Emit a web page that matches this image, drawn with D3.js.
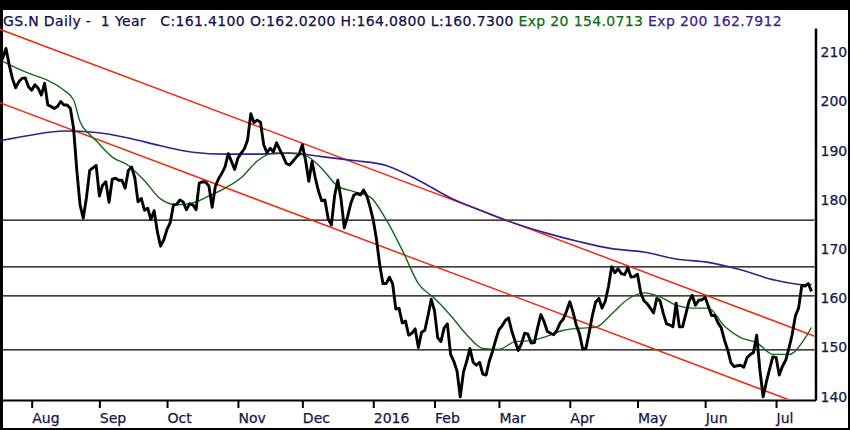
<!DOCTYPE html>
<html lang="en">
  <head>
    <meta charset="utf-8">
    <title>GS.N Daily - 1 Year</title>
    <script type="text/javascript" src="https://cdn.jsdelivr.net/npm/d3@7/dist/d3.min.js"></script>
    <style type="text/css">
      body { margin: 0; background: #000; }
      .axis text { font-family: "DejaVu Sans", sans-serif; font-size: 14px; fill: #16164a; stroke: #16164a; stroke-width: 0.25px; }
      .title { font-family: "DejaVu Sans", sans-serif; font-size: 14px; white-space: pre; stroke-width: 0.25px; letter-spacing: 0.35px; }
    </style>
  </head>
  <body>
  <script type="text/javascript">

    // daily closes, one per trading day (Jul 20 2015 .. Jul 19 2016)
    const closes = [
      207.8, 208.8, 210.8, 207.5, 204.7, 202.8, 204.0, 204.7, 204.8, 203.0,
      202.3, 203.4, 202.7, 201.3, 203.7, 199.3, 199.0, 198.6, 199.0, 200.0,
      199.3, 199.3, 198.6, 194.5, 186.0, 179.0, 176.3, 180.5, 186.0, 186.5,
      187.0, 180.8, 183.0, 183.7, 179.5, 184.2, 184.4, 184.0, 184.0, 182.4,
      186.0, 186.7, 184.5, 179.6, 180.3, 177.9, 178.3, 176.0, 177.8, 173.5,
      170.6, 171.9, 174.0, 175.4, 179.0, 179.1, 180.0, 179.6, 178.0, 179.2,
      179.0, 178.0, 183.4, 183.7, 183.6, 182.8, 178.5, 182.8, 184.3, 185.4,
      186.7, 189.4, 187.8, 186.2, 188.5, 189.5, 190.4, 192.2, 197.5, 195.7,
      196.2, 195.8, 191.2, 189.6, 190.5, 189.8, 191.6, 190.2, 188.9, 187.4,
      187.1, 187.8, 188.6, 189.3, 191.2, 188.0, 183.8, 187.8, 184.5, 181.8,
      179.8, 180.0, 176.2, 174.9, 180.8, 184.0, 180.2, 174.3, 176.5, 179.2,
      181.0, 181.3, 181.0, 182.0, 180.8, 178.6, 175.9, 172.0, 166.8, 163.0,
      163.0, 164.3, 163.0, 157.8, 158.0, 155.0, 155.4, 152.5, 152.9, 153.8,
      150.0, 153.1, 153.5, 156.5, 159.8, 157.5, 152.0, 151.2, 154.0, 154.8,
      148.6, 147.2, 145.2, 140.0, 145.0, 147.2, 149.8, 147.0, 146.4, 147.0,
      144.6, 144.4, 147.2, 149.2, 151.5, 153.6, 154.4, 155.5, 156.0, 153.3,
      151.3, 149.4, 150.8, 152.9, 152.7, 150.9, 151.0, 154.0, 156.7, 155.3,
      153.3, 152.9, 152.6, 153.5, 155.0, 155.8, 157.4, 159.3, 157.2, 154.6,
      152.8, 149.7, 149.8, 153.0, 156.5, 159.2, 160.0, 158.0, 159.4, 162.4,
      166.4, 165.2, 166.0, 165.0, 164.8, 166.2, 164.3, 164.4, 164.9, 161.2,
      159.5, 158.9, 158.0, 157.0, 160.0, 159.5, 157.0, 154.8, 154.6, 154.2,
      159.0, 154.2, 154.2, 156.8, 159.4, 160.6, 158.6, 159.6, 159.7, 160.2,
      158.4, 156.5, 156.5, 155.0, 154.0, 151.5, 149.5, 146.9, 146.1, 146.3,
      146.4, 146.0, 147.9, 148.6, 149.0, 152.5, 145.4, 140.0, 143.0, 145.6,
      148.1, 148.0, 144.4, 146.2, 147.4, 149.8, 152.6, 156.4, 158.0, 162.6,
      162.5, 163.0, 161.4
    ];

    // exponential averages (bar index -> value)
    const ema20Idx = [0, 5, 10, 15, 20, 23, 25, 28, 30, 35, 40, 45, 50, 55, 60, 65, 70, 75, 80, 85,
                      90, 95, 100, 105, 110, 115, 120, 125, 130, 135, 140, 145, 150, 155, 160, 165,
                      170, 175, 180, 185, 190, 195, 200, 205, 210, 215, 220, 225, 230, 235, 240,
                      245, 250, 252];
    const ema20Val = [208.5, 206.9, 205.5, 204.3, 202.3, 200.3, 195.9, 193.3, 192.0, 188.7, 187.0,
                      183.9, 180.2, 179.0, 179.4, 180.8, 182.4, 184.5, 187.9, 189.5, 189.5, 189.0,
                      186.4, 182.8, 181.7, 180.6, 176.0, 169.8, 163.0, 160.0, 156.5, 152.6, 149.8,
                      149.6, 151.2, 151.4, 152.3, 153.5, 153.9, 154.1, 156.8, 159.8, 161.1, 160.3,
                      158.6, 158.0, 158.0, 154.3, 152.0, 151.0, 148.6, 148.6, 151.9, 154.07];

    const ema200Idx = [0, 10, 20, 30, 40, 50, 60, 70, 80, 90, 100, 110, 120, 130, 140, 150, 160,
                       170, 180, 190, 200, 210, 220, 230, 240, 250, 252];
    const ema200Val = [192.0, 193.2, 194.0, 193.7, 192.6, 191.0, 189.7, 189.3, 189.3, 189.5, 188.8,
                       188.0, 187.0, 184.0, 180.4, 177.7, 175.2, 173.2, 171.5, 170.1, 169.4, 168.0,
                       167.3, 165.8, 163.8, 162.75, 162.79];

    // horizontal support / resistance levels
    const levels = [175.9, 166.4, 160.5, 149.5];

    // trend channel, each line given by two [bar index, price] points
    const channel = [
      [[0, 214.7], [253, 152.3]],
      [[0, 199.8], [253, 137.4]]
    ];

    const monthLabels = ["Aug", "Sep", "Oct", "Nov", "Dec", "2016", "Feb", "Mar", "Apr", "May", "Jun", "Jul"];
    const monthIdx = [10, 31, 52, 74, 94, 116, 135, 155, 177, 198, 219, 241];
    const priceTicks = [140, 150, 160, 170, 180, 190, 200, 210];

    const w = 850;
    const h = 430;
    const plot = {left: 0, right: 815.5, top: 28, bottom: 400};

    const svg = d3.select("body")
                  .append("svg")
                  .attr("width", w)
                  .attr("height", h);

    svg.append("rect")
       .attr("width", w)
       .attr("height", h)
       .attr("fill", "#000");

    svg.append("rect")
       .attr("x", 3)
       .attr("y", 10)
       .attr("width", w - 5)
       .attr("height", h - 12)
       .attr("fill", "#fff");

    const xScale = d3.scaleLinear()
                     .domain([0.16, 253.25])
                     .range([plot.left, plot.right]);

    const yScale = d3.scaleLinear()
                     .domain([139.33, 214.94])
                     .range([plot.bottom, plot.top]);

    svg.append("clipPath")
       .attr("id", "clip")
       .append("rect")
       .attr("x", plot.left)
       .attr("y", plot.top)
       .attr("width", plot.right - plot.left - 1)
       .attr("height", plot.bottom - plot.top - 1);

    const g = svg.append("g").attr("clip-path", "url(#clip)");

    g.selectAll("line.level")
     .data(levels)
     .enter()
     .append("line")
     .attr("class", "level")
     .attr("x1", plot.left)
     .attr("x2", plot.right)
     .attr("y1", d => yScale(d))
     .attr("y2", d => yScale(d))
     .attr("stroke", "#000")
     .attr("stroke-width", 1.3);

    g.selectAll("line.channel")
     .data(channel)
     .enter()
     .append("line")
     .attr("class", "channel")
     .attr("x1", d => xScale(d[0][0]))
     .attr("y1", d => yScale(d[0][1]))
     .attr("x2", d => xScale(d[1][0]))
     .attr("y2", d => yScale(d[1][1]))
     .attr("stroke", "#ee2a10")
     .attr("stroke-width", 1.5);

    const smooth = d3.line()
                     .x(d => xScale(d[0]))
                     .y(d => yScale(d[1]))
                     .curve(d3.curveMonotoneX);

    g.append("path")
     .datum(ema200Idx.map((d, i) => [d, ema200Val[i]]))
     .attr("d", smooth)
     .attr("fill", "none")
     .attr("stroke", "#3a1f8a")
     .attr("stroke-width", 1.6);

    g.append("path")
     .datum(ema20Idx.map((d, i) => [d, ema20Val[i]]))
     .attr("d", smooth)
     .attr("fill", "none")
     .attr("stroke", "#0e6a12")
     .attr("stroke-width", 1.4);

    g.append("path")
     .datum(closes)
     .attr("d", d3.line().x((d, i) => xScale(i)).y(d => yScale(d)))
     .attr("fill", "none")
     .attr("stroke", "#000")
     .attr("stroke-width", 2.9)
     .attr("stroke-linejoin", "round");

    const yAxis = d3.axisRight(yScale)
                    .tickValues(priceTicks)
                    .tickSize(0)
                    .tickSizeOuter(0)
                    .tickPadding(5);

    const xAxis = d3.axisBottom(xScale)
                    .tickValues(monthIdx)
                    .tickFormat((d, i) => monthLabels[i])
                    .tickSize(8)
                    .tickSizeOuter(0)
                    .tickPadding(5);

    const ya = svg.append("g")
                  .attr("class", "axis")
                  .attr("transform", "translate(" + plot.right + ",0)")
                  .call(yAxis);
    ya.select(".domain").attr("stroke", "#000").attr("stroke-width", 2.5);

    const xa = svg.append("g")
                  .attr("class", "axis")
                  .attr("transform", "translate(0," + plot.bottom + ")")
                  .call(xAxis);
    xa.select(".domain").attr("stroke", "#000").attr("stroke-width", 2.2);
    xa.selectAll(".tick line").attr("stroke", "#000").attr("stroke-width", 2);
    xa.selectAll(".tick text").attr("text-anchor", "start").attr("dy", "0.72em");

    const title = svg.append("text")
                     .attr("class", "title")
                     .attr("x", 3)
                     .attr("y", 25.5);
    title.append("tspan").attr("fill", "#10104a").attr("stroke", "#10104a")
         .text("GS.N Daily -  1 Year   C:161.4100 O:162.0200 H:164.0800 L:160.7300 ");
    title.append("tspan").attr("fill", "#0e6a12").attr("stroke", "#0e6a12").text("Exp 20 154.0713 ");
    title.append("tspan").attr("fill", "#3a1f8a").attr("stroke", "#3a1f8a").text("Exp 200 162.7912");

  </script>
  </body>
</html>
